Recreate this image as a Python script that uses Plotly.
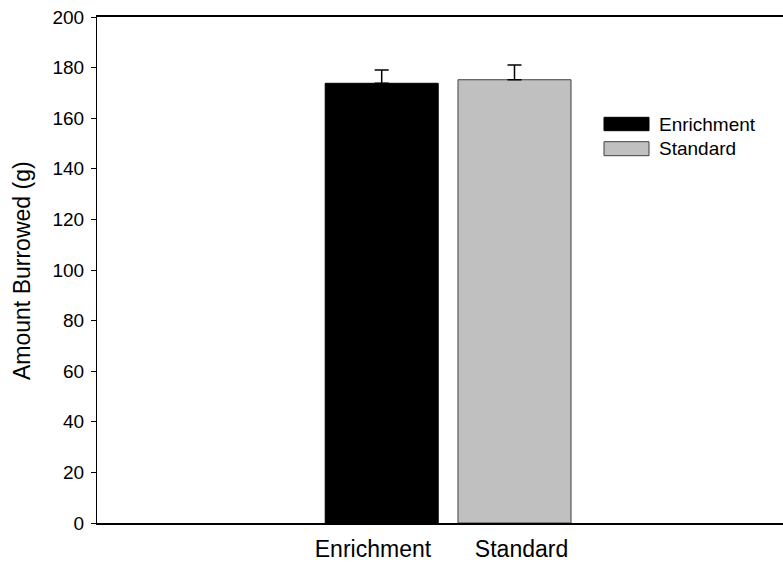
import plotly.graph_objects as go

# Burrowing data: group means with upper standard-error bars
categories = ["Enrichment", "Standard"]
means = [173.8, 175.2]
errors = [5.3, 5.8]
fill_colors = ["#000000", "#c0c0c0"]
line_colors = ["#000000", "#404040"]

y_ticks = [0, 20, 40, 60, 80, 100, 120, 140, 160, 180, 200]

# Layout geometry (pixels)
W, H = 783, 565
L, R, T, B = 97, 0, 17, 42
PW, PH = W - L - R, H - T - B

FONT = "Liberation Sans, Arial, sans-serif"

bar_pos = [0, 1]
bar_width = 0.851
label_pos = [-0.066, 1.053]

fig = go.Figure()
for i, name in enumerate(categories):
    fig.add_trace(go.Bar(
        x=[bar_pos[i]],
        y=[means[i]],
        width=bar_width,
        name=name,
        marker=dict(color=fill_colors[i], line=dict(color=line_colors[i], width=1)),
        error_y=dict(type="data", array=[errors[i]], arrayminus=[0],
                     symmetric=False, color="black", thickness=1.5, width=7),
        showlegend=False,
    ))


def px_x(p):
    return (p - L) / PW


def px_y(p):
    return (H - B - p) / PH


# Hand-drawn legend: wide swatches with labels
legend_rows = [(117.3, 130.7), (141.7, 155.7)]
shapes = []
annotations = []
for i, name in enumerate(categories):
    y0, y1 = legend_rows[i]
    shapes.append(dict(type="rect", xref="paper", yref="paper",
                       x0=px_x(604), x1=px_x(649), y0=px_y(y1), y1=px_y(y0),
                       fillcolor=fill_colors[i],
                       line=dict(color=line_colors[i], width=1)))
    annotations.append(dict(xref="paper", yref="paper",
                            x=px_x(657), y=px_y((y0 + y1) / 2),
                            text=name, showarrow=False,
                            xanchor="left", yanchor="middle",
                            font=dict(family=FONT, size=19, color="black")))

annotations.append(dict(xref="paper", yref="paper",
                        x=px_x(22), y=px_y(271), text="Amount Burrowed (g)",
                        textangle=-90, showarrow=False,
                        xanchor="center", yanchor="middle",
                        font=dict(family=FONT, size=23, color="black")))

fig.update_layout(
    width=W, height=H,
    margin=dict(l=L, r=R, t=T, b=B, pad=0),
    paper_bgcolor="white", plot_bgcolor="white",
    font=dict(family=FONT, color="black"),
    shapes=shapes,
    annotations=annotations,
    xaxis=dict(
        range=[-2.144, 3.022],
        tickmode="array", tickvals=label_pos, ticktext=categories,
        ticks="", showgrid=False, zeroline=False,
        showline=True, linecolor="black", linewidth=1.5, mirror=True,
        tickfont=dict(family=FONT, size=23),
        ticklabelstandoff=5,
    ),
    yaxis=dict(
        range=[0, 200],
        tickmode="array", tickvals=y_ticks,
        ticks="outside", ticklen=5, tickwidth=1, tickcolor="black",
        showgrid=False, zeroline=False,
        showline=True, linecolor="black", linewidth=1,
        tickfont=dict(family=FONT, size=19),
        ticklabelstandoff=3,
    ),
)

fig.write_html("out.html")
